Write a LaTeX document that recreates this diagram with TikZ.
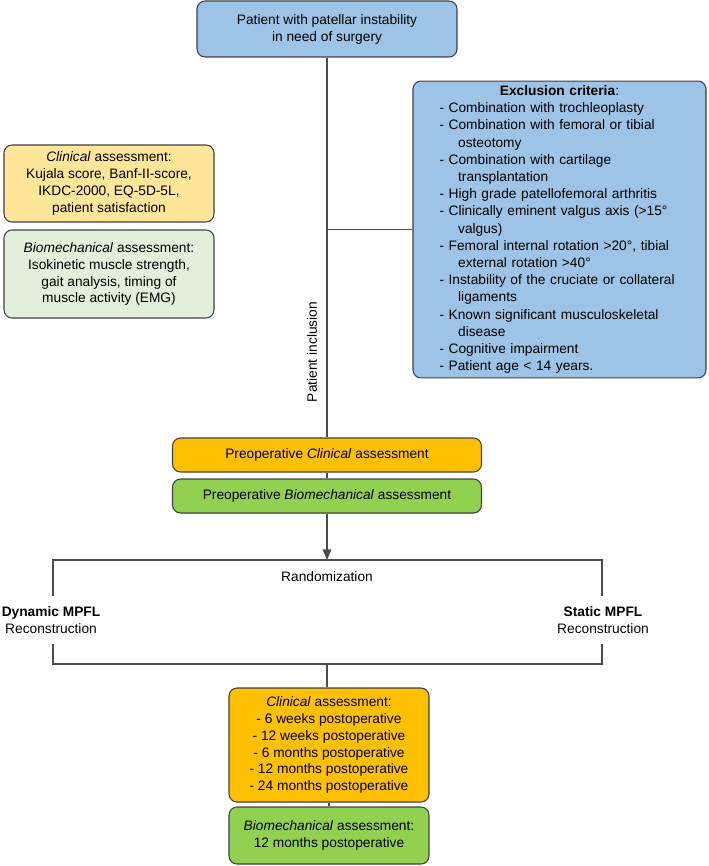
\documentclass[tikz,border=0pt]{standalone}
\usepackage{fontspec}
\setmainfont{Liberation Sans}
\usepackage{xcolor}
\usetikzlibrary{arrows.meta}
\setlength{\parindent}{0pt}
\definecolor{paleblue}{HTML}{9DC3E6}
\definecolor{paleorange}{HTML}{FFE699}
\definecolor{palegreen}{HTML}{E2EFDA}
\definecolor{deeporange}{HTML}{FFC000}
\definecolor{deepgreen}{HTML}{92D050}
\tikzstyle{box} = [rectangle, rounded corners=6pt, draw=black!75, line width=0.8pt, align=center, font=\fontsize{10.3}{12.7}\selectfont]
\tikzstyle{bluebox} = [box, fill=paleblue]
\tikzstyle{lightorange} = [box, fill=paleorange, minimum width=157.5pt]
\tikzstyle{lightgreen} = [box, fill=palegreen, minimum width=157.5pt]
\tikzstyle{orangebox} = [box, fill=deeporange]
\tikzstyle{greenbox} = [box, fill=deepgreen]
\tikzstyle{label} = [font=\fontsize{10.3}{12.7}\selectfont, align=center]
\tikzstyle{line} = [draw=black!70, line width=0.8pt]
\tikzstyle{arrow} = [line, -{Triangle[width=6.5pt,length=8pt]}]

\begin{document}
\begin{tikzpicture}[x=0.75pt, y=-0.75pt]
    \useasboundingbox (0,0) rectangle (708,866);
    \node (top) [bluebox, minimum width=195pt, minimum height=42pt] at (327,29) {Patient with patellar instability\\in need of surgery};
    \node (excl) [bluebox, minimum width=219.75pt, minimum height=221.25pt, text width=180pt, align=left, font=\fontsize{10.3}{12.9}\selectfont] at (559.5,229.5) {\makebox[\hsize][c]{\textbf{Exclusion criteria}:}\\
        - Combination with trochleoplasty\\
        - Combination with femoral or tibial\\
        \hspace*{14pt}osteotomy\\
        - Combination with cartilage\\
        \hspace*{14pt}transplantation\\
        - High grade patellofemoral arthritis\\
        - Clinically eminent valgus axis (>15°\\
        \hspace*{14pt}valgus)\\
        - Femoral internal rotation >20°, tibial\\
        \hspace*{14pt}external rotation >40°\\
        - Instability of the cruciate or collateral\\
        \hspace*{14pt}ligaments\\
        - Known significant musculoskeletal\\
        \hspace*{14pt}disease\\
        - Cognitive impairment\\
        - Patient age < 14 years.};

    % assessments (left)
    \node (clin) [lightorange, minimum height=57.75pt] at (109,183.5) {\textit{Clinical} assessment:\\Kujala score, Banf-II-score,\\IKDC-2000, EQ-5D-5L,\\patient satisfaction};
    \node (biomech) [lightgreen, minimum height=66pt] at (109,274) {\textit{Biomechanical} assessment:\\Isokinetic muscle strength,\\gait analysis, timing of\\muscle activity (EMG)};

    \node (incl) [label, rotate=90] at (312,352) {Patient inclusion};

    % preoperative
    \node (preclin) [orangebox, minimum width=231.75pt, minimum height=25.5pt] at (327,455) {Preoperative \textit{Clinical} assessment};
    \node (prebio) [greenbox, minimum width=231.75pt, minimum height=25.5pt] at (327,496) {Preoperative \textit{Biomechanical} assessment};

    % randomization
    \node (rand) [label] at (327,577) {Randomization};
    \node (dyn) [label] at (51,620) {\textbf{Dynamic MPFL}\\Reconstruction};
    \node (stat) [label] at (603,620) {\textbf{Static MPFL}\\Reconstruction};
    \coordinate (randtop) at (327,560);
    \coordinate (randbot) at (327,664);
    \coordinate (dynup) at (53,596);
    \coordinate (dyndn) at (53,644);
    \coordinate (statup) at (602,596);
    \coordinate (statdn) at (602,644);

    % postoperative
    \node (postclin) [orangebox, minimum width=150pt, minimum height=85.5pt] at (329,745) {\textit{Clinical} assessment:\\- 6 weeks postoperative\\- 12 weeks postoperative\\- 6 months postoperative\\- 12 months postoperative\\- 24 months postoperative};
    \node (postbio) [greenbox, minimum width=150pt, minimum height=42.75pt] at (329,835.5) {\textit{Biomechanical} assessment:\\12 months postoperative};

    \draw [line] (top) -- (preclin);
    \draw [line] (excl.west) -- (excl.west -| top.south);
    \draw [line] (preclin) -- (prebio);
    \draw [arrow] (prebio) -- (randtop);
    \draw [line] (dynup) |- (randtop) -| (statup);
    \draw [line] (dyndn) |- (randbot) -| (statdn);
    \draw [line] (randbot) -- (randbot |- postclin.north);
    \draw [line] (postclin) -- (postbio);
\end{tikzpicture}
\end{document}
